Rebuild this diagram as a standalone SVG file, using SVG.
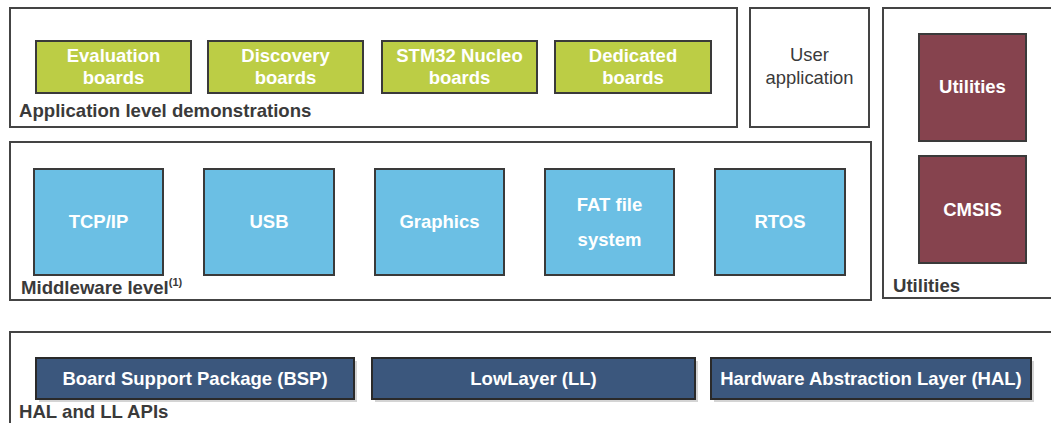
<svg xmlns="http://www.w3.org/2000/svg" width="1051" height="423" viewBox="0 0 1051 423">
<style>
.frame{fill:#fff;stroke:#444;stroke-width:2}
.green{fill:#bccd45;stroke:#3a3a3a;stroke-width:2}
.blue{fill:#6bbfe4;stroke:#3a3a3a;stroke-width:2}
.maroon{fill:#86434e;stroke:#3a3a3a;stroke-width:2}
.navy{fill:#3b577d;stroke:#2a2a2a;stroke-width:2}
.shadow{fill:#d4d4d4}
.bt{font-family:"Liberation Sans",Arial,sans-serif;font-weight:bold;font-size:18.5px;fill:#fff;text-anchor:middle}
.lbl{font-family:"Liberation Sans",Arial,sans-serif;font-weight:bold;font-size:18.6px;fill:#3a3a3a}
.reg{font-family:"Liberation Sans",Arial,sans-serif;font-size:18.4px;fill:#3a3a3a;text-anchor:middle}
</style>
<rect width="1051" height="423" fill="#fff"/>
<g id="app-level">
<rect class="frame" x="10" y="8" width="727" height="119"/>
<text class="lbl" x="19" y="117">Application level demonstrations</text>
</g>
<g id="eval"><rect class="green" x="36" y="41" width="155" height="52"/><text class="bt" x="113.5" y="62">Evaluation</text><text class="bt" x="113.5" y="84">boards</text></g>
<g id="discovery"><rect class="green" x="208" y="41" width="155" height="52"/><text class="bt" x="285.5" y="62">Discovery</text><text class="bt" x="285.5" y="84">boards</text></g>
<g id="nucleo"><rect class="green" x="382" y="41" width="155" height="52"/><text class="bt" x="459.5" y="62">STM32 Nucleo</text><text class="bt" x="459.5" y="84">boards</text></g>
<g id="dedicated"><rect class="green" x="555" y="41" width="156" height="52"/><text class="bt" x="633" y="62">Dedicated</text><text class="bt" x="633" y="84">boards</text></g>
<g id="user-app"><rect class="frame" x="750" y="8" width="119" height="119"/><text class="reg" x="809.5" y="61">User</text><text class="reg" x="809.5" y="84">application</text></g>
<g id="utilities-group">
<rect class="frame" x="883" y="8" width="180" height="290"/>
<text class="lbl" x="893" y="292">Utilities</text>
</g>
<g id="utilities"><rect class="maroon" x="919" y="34" width="107" height="107"/><text class="bt" x="972.5" y="93">Utilities</text></g>
<g id="cmsis"><rect class="maroon" x="919" y="156" width="107" height="107"/><text class="bt" x="972.5" y="216">CMSIS</text></g>
<g id="middleware">
<rect class="frame" x="10" y="142" width="861" height="158"/>
<text class="lbl" x="21" y="294">Middleware level<tspan font-size="11" dy="-8">(1)</tspan></text>
</g>
<g id="tcpip"><rect class="blue" x="34" y="169" width="129" height="106"/><text class="bt" x="98.5" y="228">TCP/IP</text></g>
<g id="usb"><rect class="blue" x="204" y="169" width="130" height="106"/><text class="bt" x="269" y="228">USB</text></g>
<g id="graphics"><rect class="blue" x="375" y="169" width="129" height="106"/><text class="bt" x="439.5" y="228">Graphics</text></g>
<g id="fat"><rect class="blue" x="545" y="169" width="129" height="106"/><text class="bt" x="609.5" y="211">FAT file</text><text class="bt" x="609.5" y="246">system</text></g>
<g id="rtos"><rect class="blue" x="715" y="169" width="130" height="106"/><text class="bt" x="780" y="228">RTOS</text></g>
<g id="hal-ll">
<rect class="frame" x="10" y="332" width="1060" height="110"/>
<text class="lbl" x="19" y="418">HAL and LL APIs</text>
</g>
<g id="bsp"><rect class="shadow" x="39" y="361" width="318" height="41"/><rect class="navy" x="36" y="358" width="318" height="41"/><text class="bt" x="195" y="385">Board Support Package (BSP)</text></g>
<g id="ll"><rect class="shadow" x="375" y="361" width="323" height="41"/><rect class="navy" x="372" y="358" width="323" height="41"/><text class="bt" x="533.5" y="385">LowLayer (LL)</text></g>
<g id="hal"><rect class="shadow" x="714" y="361" width="320" height="41"/><rect class="navy" x="711" y="358" width="320" height="41"/><text class="bt" x="871" y="385">Hardware Abstraction Layer (HAL)</text></g>
<g id="connectors"></g>
</svg>
